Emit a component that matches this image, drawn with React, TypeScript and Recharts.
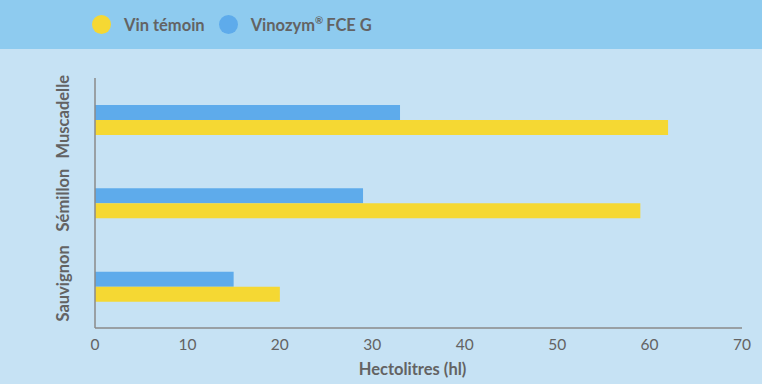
import { Bar, BarChart, XAxis, YAxis } from "recharts";

const grapes = ["Muscadelle", "Sémillon", "Sauvignon"];
const vinozym = [33, 29, 15];
const temoin = [62, 59, 20];
const xTicks = [0, 10, 20, 30, 40, 50, 60, 70];

const seriesNames = { temoin: "Vin témoin", vinozym: "Vinozym® FCE G" };

const data = grapes.map((g, i) => ({ grape: g, vinozym: vinozym[i], temoin: temoin[i] }));

const TEXT = "#636363";
const AXIS = "#8a8a8a";
const BLUE = "#5eabeb";
const YELLOW = "#f5d833";
const FONT = "Lato, 'Open Sans', sans-serif";

function GrapeTick({ x, y, payload }: any) {
  const cx = x - 24;
  const cy = y - 3;
  return (
    <text
      x={cx}
      y={cy}
      transform={`rotate(-90, ${cx}, ${cy})`}
      textAnchor="middle"
      dominantBaseline="central"
      fill={TEXT}
      fontSize={16.5}
      fontWeight={700}
      fontFamily={FONT}
    >
      {payload.value}
    </text>
  );
}

// render the ® as a small superscript like the original
function renderLabel(label: string) {
  const parts = label.split("®");
  if (parts.length < 2) return label;
  return (
    <>
      {parts[0]}
      <sup style={{ fontSize: "0.6em", marginRight: 3 }}>®</sup>
      {parts[1].trimStart()}
    </>
  );
}

function LegendItem({ color, label }: { color: string; label: string }) {
  return (
    <div style={{ display: "flex", alignItems: "center", marginRight: 14 }}>
      <span
        style={{
          width: 19,
          height: 19,
          borderRadius: "50%",
          background: color,
          display: "inline-block",
          marginRight: 13,
        }}
      />
      <span style={{ color: TEXT, fontSize: 16.5, fontWeight: 700, fontFamily: FONT }}>
        {renderLabel(label)}
      </span>
    </div>
  );
}

export default function App() {
  return (
    <div style={{ position: "fixed", left: 0, top: 0, width: 762, height: 384, background: "#c6e2f4" }}>
      {/* legend band */}
      <div
        style={{
          height: 49,
          background: "#8ecbef",
          display: "flex",
          alignItems: "center",
          paddingLeft: 92,
          boxSizing: "border-box",
        }}
      >
        <LegendItem color={YELLOW} label={seriesNames.temoin} />
        <LegendItem color={BLUE} label={seriesNames.vinozym} />
      </div>

      <BarChart
        width={762}
        height={335}
        data={data}
        layout="vertical"
        margin={{ top: 29, right: 20, left: 0, bottom: 0 }}
        barSize={15}
        barGap={0}
      >
        <XAxis
          type="number"
          domain={[0, 70]}
          ticks={xTicks}
          tickLine={false}
          tickMargin={5}
          stroke={AXIS}
          strokeWidth={1.5}
          height={56}
          tick={{ fill: TEXT, fontSize: 15.5, fontFamily: FONT }}
          label={{
            value: "Hectolitres (hl)",
            position: "insideBottom",
            offset: 9,
            dx: -6,
            fill: TEXT,
            fontSize: 16.5,
            fontWeight: 700,
            fontFamily: FONT,
          }}
        />
        <YAxis
          type="category"
          dataKey="grape"
          width={95}
          tickLine={false}
          stroke={AXIS}
          strokeWidth={1.5}
          tick={<GrapeTick />}
        />
        <Bar dataKey="vinozym" name={seriesNames.vinozym} fill={BLUE} isAnimationActive={false} />
        <Bar dataKey="temoin" name={seriesNames.temoin} fill={YELLOW} isAnimationActive={false} />
      </BarChart>
    </div>
  );
}
